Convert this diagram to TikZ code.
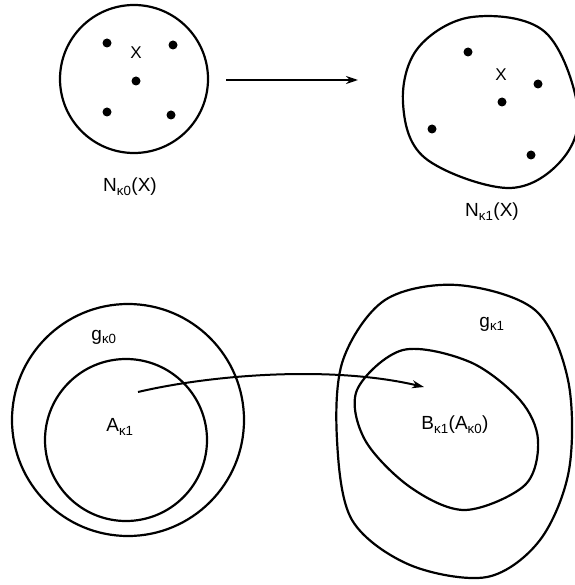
\documentclass[tikz,border=0pt]{standalone}
\usepackage{fontspec}
\setmainfont{Liberation Sans}
\usetikzlibrary{arrows.meta}
\newcommand{\kap}[1]{\textsubscript{κ#1}}
\begin{document}
\begin{tikzpicture}[x=1pt,y=-1pt,
  outline/.style={line width=2.2pt},
  pt/.style={circle,fill=black,inner sep=0pt,minimum size=9pt},
  lbl/.style={font=\fontsize{19}{21}\selectfont,inner sep=1pt},
  small/.style={font=\fontsize{17}{19}\selectfont,inner sep=1pt},
  maparrow/.style={line width=2pt,-{Stealth[length=12pt,width=8pt]}}]
\useasboundingbox (0,0) rectangle (574,585);

% upper left: round neighbourhood with its points
\draw[outline] (134,79) circle[radius=74];
\node[pt] (p1) at (107,43) {};
\node[pt] (p2) at (173,45) {};
\node[pt] (p3) at (136,81) {};
\node[pt] (p4) at (107,112) {};
\node[pt] (p5) at (171,115) {};
\node[small] (x0) at (136,53) {X};
\node[lbl] (n0) at (130,187) {N\kap{0}(X)};

% upper right: deformed neighbourhood
\draw[outline] plot[smooth cycle,tension=0.6] coordinates {
  (403,103) (425,158) (507,188) (560,162) (578,110) (545,32) (472,17) (418,48)};
\node[pt] (q1) at (468,52) {};
\node[pt] (q2) at (538,84) {};
\node[pt] (q3) at (502,102) {};
\node[pt] (q4) at (432,129) {};
\node[pt] (q5) at (531,155) {};
\node[small] (x1) at (501,75) {X};
\node[lbl] (n1) at (492,212) {N\kap{1}(X)};

% map between the neighbourhoods
\coordinate (a0) at (226,80);
\coordinate (a1) at (358,80);
\draw[maparrow] (a0) -- (a1);

% lower left: g and A
\draw[outline] (128,420) circle[radius=116];
\draw[outline] (126,440) circle[radius=81];
\node[lbl] (g0) at (104,337) {g\kap{0}};
\node[lbl] (A1) at (120,427) {A\kap{1}};

% lower right: g and the image B
\draw[outline] plot[smooth cycle,tension=0.55] coordinates {
  (457,285) (535,310) (568,380) (569,470) (540,540) (487,577)
  (410,565) (352,520) (337,440) (343,360) (385,300)};
\draw[outline] plot[smooth cycle,tension=0.55] coordinates {
  (403,350) (470,362) (520,400) (538,440) (525,485) (465,510)
  (410,487) (365,440) (357,390)};
\node[lbl] (g1) at (492,324) {g\kap{1}};
\node[lbl] (B1) at (455,425) {B\kap{1}(A\kap{0})};

% curved map from A to B
\coordinate (b0) at (138,392);
\coordinate (b1) at (424,387);
\draw[maparrow] (b0) .. controls (210,375) and (330,365) .. (b1);
\end{tikzpicture}
\end{document}
